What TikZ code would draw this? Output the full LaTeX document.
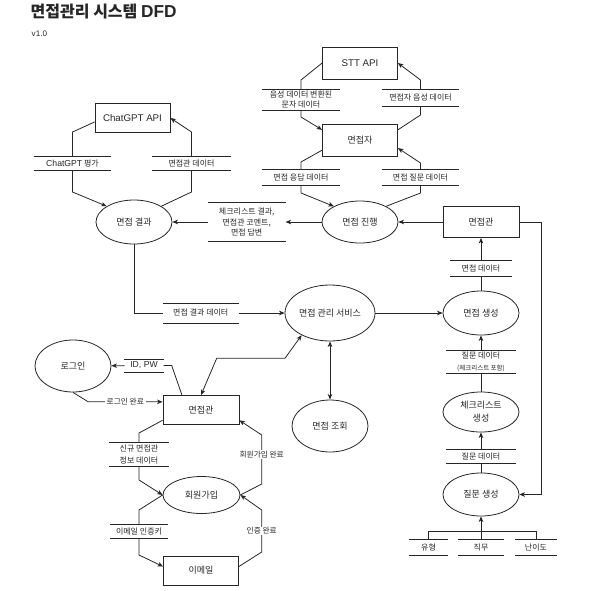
\documentclass[tikz,border=0pt]{standalone}
\usepackage{fontspec}
\setmainfont{Noto Sans CJK KR}
\newfontfamily\lat[Scale=1.08]{Liberation Sans}
\usetikzlibrary{shapes.geometric,arrows.meta}

\tikzset{
  proc/.style={ellipse, draw, minimum width=76, minimum height=42, inner xsep=-8pt, inner ysep=0pt, align=center, font=\fontsize{9}{13}\selectfont},
  ent/.style={rectangle, draw, minimum width=76, minimum height=30, inner sep=0pt, font=\fontsize{9}{11}\selectfont},
  store/.style={inner sep=0pt, align=center, font=\fontsize{8}{10.8}\selectfont,
    append after command={(\tikzlastnode.north west) edge (\tikzlastnode.north east)
                          (\tikzlastnode.south west) edge (\tikzlastnode.south east)}},
  flow/.style={fill=white, inner xsep=2pt, inner ysep=1pt, font=\fontsize{7.7}{9}\selectfont},
}

\begin{document}
\begin{tikzpicture}[x=1pt, y=-1pt, line width=0.8pt, color=black!85, >={Stealth[length=5.5pt,width=4.5pt,inset=1.5pt]}]
\useasboundingbox (0,0) rectangle (606,590);
% 제목
\node[anchor=west, font=\fontsize{16}{18}\selectfont\bfseries] (title) at (27,12) {면접관리 시스템 {\lat DFD}};
\node[anchor=west, font=\fontsize{7.5}{9}\selectfont] (ver) at (28,34) {\lat v1.0};
% 외부 API / 사용자
\node[ent, minimum width=75, minimum height=32] (stt) at (360,63) {\lat STT API};
\node[ent, minimum width=75, minimum height=32] (iee) at (360,140) {면접자};
\node[ent, minimum width=75, minimum height=29] (gpt) at (132.5,118) {\lat ChatGPT API};
\node[ent, minimum height=31] (itv1) at (481,222) {면접관};
\node[ent, minimum height=29] (itv2) at (201,410) {면접관};
\node[ent, minimum width=75, minimum height=29] (mail) at (201,570.5) {이메일};
% 프로세스
\node[proc] (prog) at (360,222) {면접 진행};
\node[proc, minimum height=44] (res) at (134,222) {면접 결과};
\node[proc, minimum width=90, minimum height=56] (mgr) at (330,313) {면접 관리 서비스};
\node[proc, minimum height=44] (gen) at (481,313) {면접 생성};
\node[proc, minimum height=52] (look) at (330,426) {면접 조회};
\node[proc, minimum height=40] (chk) at (481,412) {체크리스트\\생성};
\node[proc, minimum height=43] (qgen) at (481,494.5) {질문 생성};
\node[proc, minimum height=52] (login) at (73,366) {로그인};
\node[proc, minimum width=77, minimum height=37] (join) at (201.5,495) {회원가입};
% 데이터
\node[store, minimum width=78, minimum height=20] (d1) at (301,99.5) {음성 데이터 변환된\\문자 데이터};
\node[store, minimum width=77, minimum height=16] (d2) at (420.5,98) {면접자 음성 데이터};
\node[store, minimum width=78, minimum height=15] (d3) at (301,177.5) {면접 응답 데이터};
\node[store, minimum width=77, minimum height=15] (d4) at (420.5,177.5) {면접 질문 데이터};
\node[store, minimum width=77, minimum height=13.5] (d5) at (72.5,163.3) {{\lat ChatGPT} 평가};
\node[store, minimum width=77.6, minimum height=13.5] (d6) at (191.5,163.3) {면접관 데이터};
\node[store, minimum width=77, minimum height=37.7] (d7) at (246.7,222) {체크리스트 결과,\\면접관 코멘트,\\면접 답변};
\node[store, minimum width=75, minimum height=19.4] (d8) at (200.8,313) {면접 결과 데이터};
\node[store, minimum width=61, minimum height=15] (d9) at (481,268.2) {면접 데이터};
\node[store, minimum width=68.3, minimum height=22.3, font=\fontsize{8}{12}\selectfont] (d10) at (481,362) {질문 데이터\\{\fontsize{6.5}{8}\selectfont(체크리스트 포함)}};
\node[store, minimum width=68.3, minimum height=14] (d11) at (481,456.3) {질문 데이터};
\node[store, minimum width=38.4, minimum height=15] (d12) at (428.5,547.5) {유형};
\node[store, minimum width=45.7, minimum height=15] (d13) at (481,547.5) {직무};
\node[store, minimum width=41.7, minimum height=15] (d14) at (536,547.5) {난이도};
\node[store, minimum width=38.3, minimum height=12.4] (d15) at (144,365.5) {\lat ID, PW};
\node[store, minimum width=58.3, minimum height=23.3, font=\fontsize{8}{12.3}\selectfont] (d16) at (139,454.3) {신규 면접관\\정보 데이터};
\node[store, minimum width=57, minimum height=13] (d17) at (139,531.7) {이메일 인증키};
% STT / 면접자
\draw[->] (stt.west) -- (301,80) -- (d1) -- (301,117) -- (iee.165);
\draw[->] (iee.15) -- (420.5,115) -- (d2) -- (420.5,80) -- (stt.east);
\draw[->] (iee.195) -- (301,162) -- (d3) -- (301,193) -- (prog.149);
\draw[->] (prog.31) -- (420.5,193) -- (d4) -- (420.5,163) -- (iee.348);
% ChatGPT
\draw[->] (gpt.186) -- (72.5,132) -- (d5) -- (72.5,192) -- (res.150);
\draw[->] (res.30) -- (191.5,192) -- (d6) -- (191.5,132) -- (gpt.east);
% 면접 흐름
\draw[->] (itv1) -- (prog);
\draw[->] (prog) -- (d7);
\draw[->] (d7) -- (res);
\draw[->] (res.south) -- (134,313) -- (d8) -- (mgr);
\draw[->] (mgr) -- (gen);
\draw[<->] (mgr) -- (look);
\draw[->] (gen) -- (d9) -- (itv1);
\draw[->] (chk) -- (d10) -- (gen);
\draw[->] (qgen) -- (d11) -- (chk);
\draw[->] (itv1.east) -- (541.5,222) -- (541.5,494.5) -- (qgen.east);
% 질문 조건
\draw (d12.north) -- ++(0,-8.3) -| (d14.north);
\draw[->] (d13) -- (qgen);
% 로그인 / 회원가입
\draw[<->] (itv2.north) -- (216.7,358.3) -- (285,358.3) -- (mgr.218);
\draw[->] (itv2.142) -- (171.7,365.5) -- (d15) -- (login);
\draw[->] (login.south) -- (88,401.7) -- node[flow] (t1) {로그인 완료} (itv2.168);
\draw[->] (itv2.195) -- (139,433) -- (d16) -- (139,480) -- (join.west);
\draw[->] (join.east) -- (261.7,484) -- node[flow, pos=0.6] (t2) {회원가입 완료} (261.7,435) -- (itv2.345);
\draw[->] (join.west) -- (139,510) -- (d17) -- (139,555) -- (mail.174);
\draw[->] (mail.6) -- (261.7,552) -- node[flow] (t3) {인증 완료} (261.7,510) -- (join.east);
\end{tikzpicture}
\end{document}
